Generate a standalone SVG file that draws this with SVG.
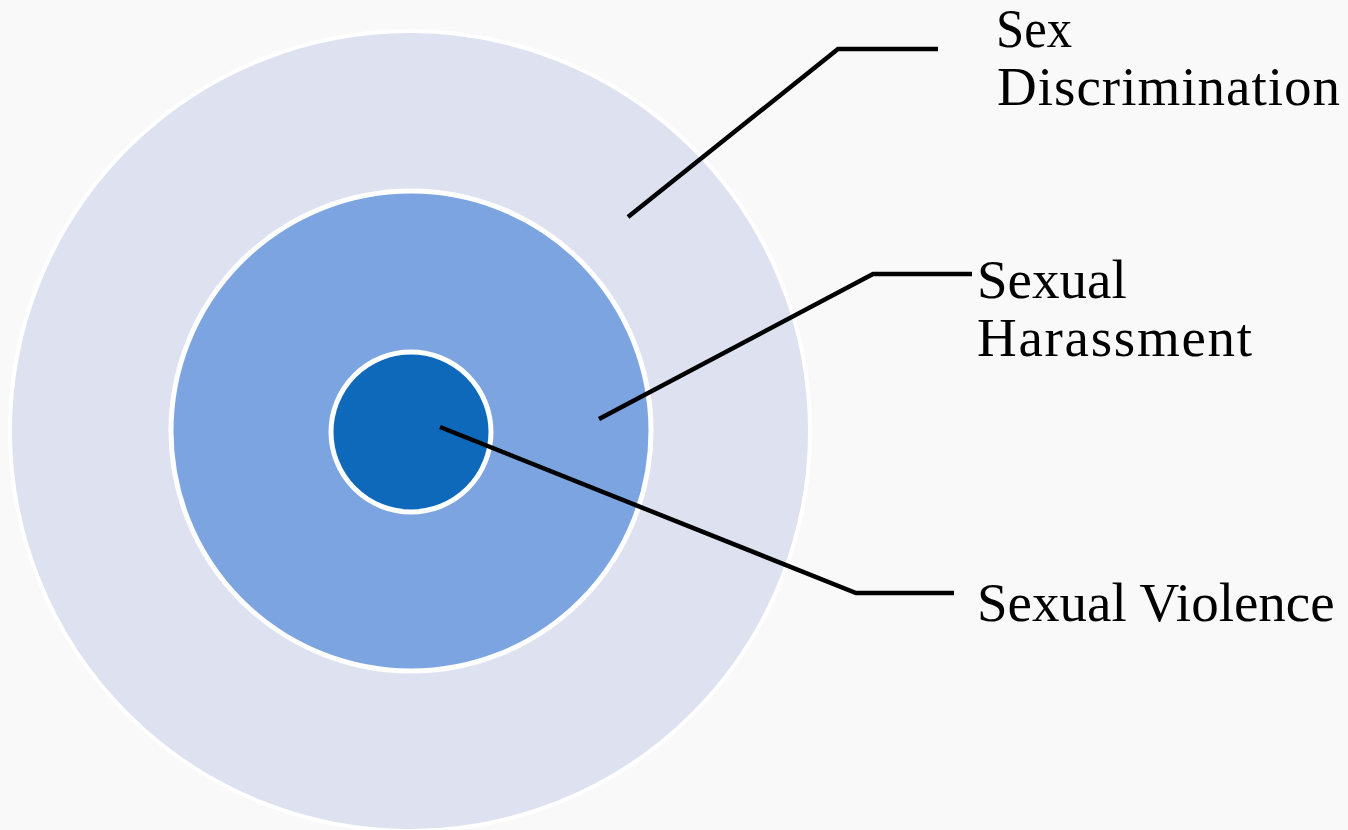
<svg xmlns="http://www.w3.org/2000/svg" width="1348" height="830" viewBox="0 0 1348 830">
  <style>
    .ring { stroke: #ffffff; }
    .leader { fill: none; stroke: #000000; stroke-width: 4.5; stroke-linejoin: miter; }
    .label { font-family: "Liberation Serif", "Times New Roman", serif; font-size: 55px; fill: #000000; }
  </style>
  <rect x="0" y="0" width="1348" height="830" fill="#f9f9f9"/>

  <g id="sex-discrimination">
    <circle class="ring" cx="410" cy="431" r="400" fill="#dde1f0" stroke-width="4"/>
    <text class="label" x="996" y="47" textLength="76" lengthAdjust="spacingAndGlyphs">Sex</text>
    <text class="label" x="997" y="105" textLength="343" lengthAdjust="spacing">Discrimination</text>
  </g>

  <g id="sexual-harassment">
    <circle class="ring" cx="411" cy="431" r="240" fill="#7ba4e0" stroke-width="5"/>
    <text class="label" x="977" y="298">Sexual</text>
    <text class="label" x="977" y="356" textLength="275" lengthAdjust="spacing">Harassment</text>
  </g>

  <g id="sexual-violence">
    <circle class="ring" cx="411" cy="432" r="80" fill="#0f69bb" stroke-width="5"/>
    <text class="label" x="977" y="621">Sexual Violence</text>
  </g>

  <g id="connectors">
    <polyline class="leader" points="628,217 838,49 938,49"/>
    <polyline class="leader" points="599,419 873,274 972,274"/>
    <polyline class="leader" points="440,427 856,593 954,593"/>
  </g>
</svg>
